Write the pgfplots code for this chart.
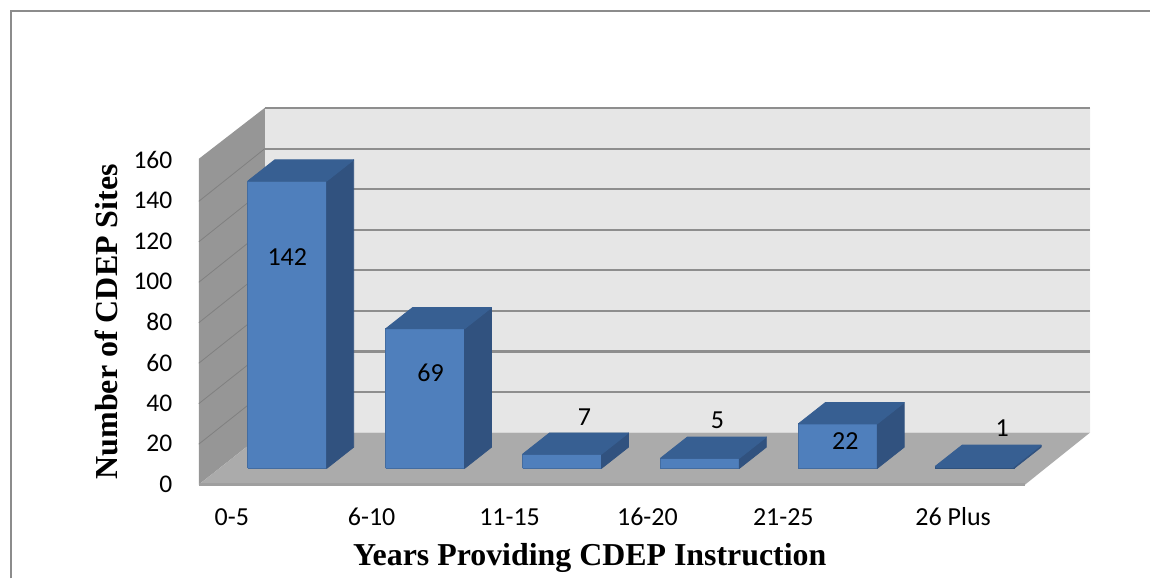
\documentclass[border=0pt]{standalone}
\usepackage{fontspec}
\setmainfont{Carlito}
\newfontfamily\labelfont{Liberation Serif}
\usepackage{pgfplots}
\pgfplotsset{compat=1.18}

\definecolor{frontblue}{HTML}{4F7FBC}
\definecolor{sideblue}{HTML}{31527F}
\definecolor{topblue}{HTML}{375F92}
\definecolor{wallleft}{HTML}{969696}
\definecolor{wallback}{HTML}{E6E6E6}
\definecolor{floorgray}{HTML}{ABABAB}
\definecolor{gridgray}{HTML}{8E8E8E}
\definecolor{bordergray}{HTML}{8C8C8C}

% one 3D box: front colour, left edge in px, value; box stands 8 units up from the front edge
\newcommand{\barbox}[3][frontblue]{%
  \pgfmathsetmacro{\xa}{#2}%
  \pgfmathsetmacro{\xb}{#2+79}%
  \pgfmathsetmacro{\xc}{#2+106}%
  \pgfmathsetmacro{\xd}{#2+27}%
  \pgfmathsetmacro{\yb}{8}%
  \pgfmathsetmacro{\yt}{#3+8}%
  \pgfmathsetmacro{\ybb}{8+10.5}%
  \pgfmathsetmacro{\ytb}{#3+8+10.5}%
  \addplot[fill=#1,draw=#1!85!black,line width=1pt] coordinates {(\xa,\yb) (\xb,\yb) (\xb,\yt) (\xa,\yt) (\xa,\yb)};
  \addplot[fill=sideblue,draw=sideblue,line width=0.8pt,line join=round] coordinates {(\xb,\yb) (\xc,\ybb) (\xc,\ytb) (\xb,\yt) (\xb,\yb)};
  \addplot[fill=topblue,draw=topblue,line width=0.8pt,line join=round] coordinates {(\xa,\yt) (\xb,\yt) (\xc,\ytb) (\xd,\ytb) (\xa,\yt)};
}

\begin{document}
\begin{tikzpicture}
\begin{axis}[
  x=1pt, y=2.025pt,
  xmin=199, xmax=1151,
  ymin=0, ymax=239.5,
  clip=false,
  axis line style={draw=none},
  tick style={draw=none},
  major tick length=0pt,
  tick align=outside,
  xtick={232,372,510,648,784,954},
  xticklabels={0-5,6-10,11-15,16-20,21-25,26 Plus},
  ytick={0,20,40,60,80,100,120,140,160},
  xticklabel style={font=\fontsize{26}{30}\selectfont,anchor=base,yshift=-41pt},
  yticklabel style={font=\fontsize{25.5}{29}\selectfont,anchor=east,xshift=-23pt,yshift=0.5pt,
    /pgf/number format/assume math mode=true},
  xlabel={Years Providing CDEP Instruction},
  ylabel={Number of CDEP Sites},
  xlabel style={font=\labelfont\bfseries\fontsize{31.9}{36}\selectfont,anchor=center,
    at={(axis description cs:0.411,-0.152)}},
  ylabel style={font=\labelfont\bfseries\fontsize{32}{36}\selectfont,anchor=center,
    at={(axis description cs:-0.0976,0.336)}},
]
% page extent and chart border
\addplot[draw=none] coordinates {(0,-46.42) (1151,239.5)};
\addplot[draw=bordergray,line width=2pt] coordinates {(11,-46.42) (11,234.1) (1151,234.1)};

% walls and floor
\addplot[fill=wallback,draw=none] coordinates {(265,25.7) (1091,25.7) (1091,186.2) (265,186.2) (265,25.7)};
\addplot[fill=wallleft,draw=none] coordinates {(199,0) (265,25.7) (265,186.2) (199,161) (199,0)};
\addplot[fill=floorgray,draw=none] coordinates {(199,0) (1026,0) (1091,25.7) (265,25.7) (199,0)};
\addplot[draw=gridgray!85!white,line width=2.4pt] coordinates {(199,0) (1026,0)};

% gridlines on back wall
\foreach \g in {45.8,65.8,85.9,106,126,146,166,186.2} {
  \edef\tmp{\noexpand\addplot[draw=gridgray,line width=2.2pt] coordinates {(265,\g) (1091,\g)};}
  \tmp
}
% gridlines on side wall
\addplot[draw=gridgray!90!black,line width=0.8pt] coordinates {(199,20) (265,45.8)};
\addplot[draw=gridgray!90!black,line width=0.8pt] coordinates {(199,40) (265,65.8)};
\addplot[draw=gridgray!90!black,line width=0.8pt] coordinates {(199,60) (265,85.9)};
\addplot[draw=gridgray!90!black,line width=0.8pt] coordinates {(199,80) (265,106)};
\addplot[draw=gridgray!90!black,line width=0.8pt] coordinates {(199,100) (265,126)};
\addplot[draw=gridgray!90!black,line width=0.8pt] coordinates {(199,120) (265,146)};
\addplot[draw=gridgray!90!black,line width=0.8pt] coordinates {(199,140) (265,166)};

% bars
\barbox{248}{142}
\barbox{386}{69}
\barbox{523}{7}
\barbox{661}{5}
\barbox{799}{22}
\barbox[topblue]{936}{1}

% value labels
\addplot[draw=none,
  point meta=explicit symbolic,
  nodes near coords,
  nodes near coords align={anchor=center},
  every node near coord/.append style={font=\fontsize{26}{30}\selectfont,text=black,inner sep=0pt},
] coordinates {
  (287.5,112.5) [142]
  (431,55) [69]
  (585,33.5) [7]
  (718,32) [5]
  (846,21.5) [22]
  (1003,28) [1]
};
\end{axis}
\end{tikzpicture}
\end{document}
